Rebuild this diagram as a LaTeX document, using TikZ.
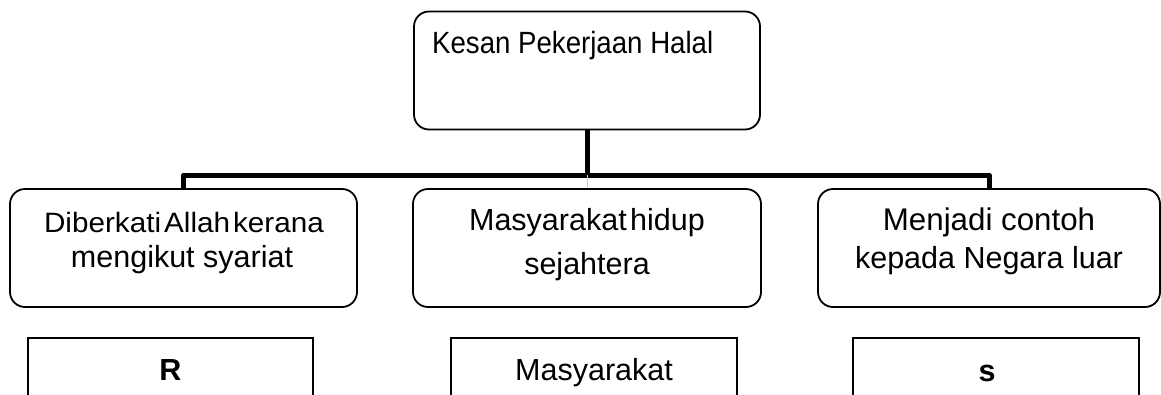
\documentclass[tikz,border=0pt]{standalone}
\usepackage{fontspec}
\setmainfont{Liberation Sans}
\newfontfamily\narrowfont[FakeStretch=0.9]{Liberation Sans}
\newfontfamily\widefont[FakeStretch=1.06]{Liberation Sans}
\begin{document}
\begin{tikzpicture}[x=1pt,y=-1pt,
  rbox/.style={draw=black,line width=1.8pt,rounded corners=15pt,minimum width=#1,minimum height=118pt,inner sep=0pt},
  sbox/.style={draw=black,line width=1.8pt,minimum height=80pt,inner sep=0pt},
  conn/.style={draw=black,line width=5pt,line join=round},
  txt/.style={anchor=base,inner sep=0pt,font=\fontsize{30.5}{36}\selectfont},
  btxt/.style={anchor=base,inner sep=0pt,font=\fontsize{30.5}{36}\selectfont\bfseries}]
\useasboundingbox (0,0) rectangle (1161,394);
\clip (0,0) rectangle (1161,394);
\fill[white] (0,0) rectangle (1161,394);
% top box
\node[rbox=346pt] (top) at (587,70.5) {};
\node[txt,anchor=base west,font=\narrowfont\fontsize{30.7}{36}\selectfont] (ttop) at (432,53) {Kesan Pekerjaan Halal};
% second row boxes
\node[rbox=347pt] (b1) at (183.5,248) {};
\node[rbox=348pt] (b2) at (587,248) {};
\node[rbox=342pt] (b3) at (989,248) {};
% connectors
\coordinate (j) at (587,175);
\draw[conn] (top.south) -- (j);
\draw[conn] (b1.north) |- (j) -| (b3.north);
\draw[black!20,line width=0.6pt] (j) -- (b2.north);
% texts
\node[txt,font=\widefont\fontsize{28}{34}\selectfont] (t1a) at (184,232) {Diberkati\hspace{3pt}Allah\hspace{3pt}kerana};
\node[txt] (t1b) at (182,267) {mengikut syariat};
\node[txt] (t2a) at (587,230) {Masyarakat\hspace{3.5pt}hidup};
\node[txt] (t2b) at (587,274.5) {sejahtera};
\node[txt,font=\fontsize{31.3}{36}\selectfont] (t3a) at (989,230) {Menjadi contoh};
\node[txt] (t3b) at (989,268) {kepada Negara luar};
% bottom boxes
\node[sbox,minimum width=285pt] (c1) at (170.5,378) {};
\node[sbox,minimum width=286pt] (c2) at (594,378) {};
\node[sbox,minimum width=286pt] (c3) at (996,378) {};
\node[btxt] (u1) at (170.5,380) {R};
\node[txt] (u2) at (594,380) {Masyarakat};
\node[btxt] (u3) at (987,381.5) {s};
\end{tikzpicture}
\end{document}
